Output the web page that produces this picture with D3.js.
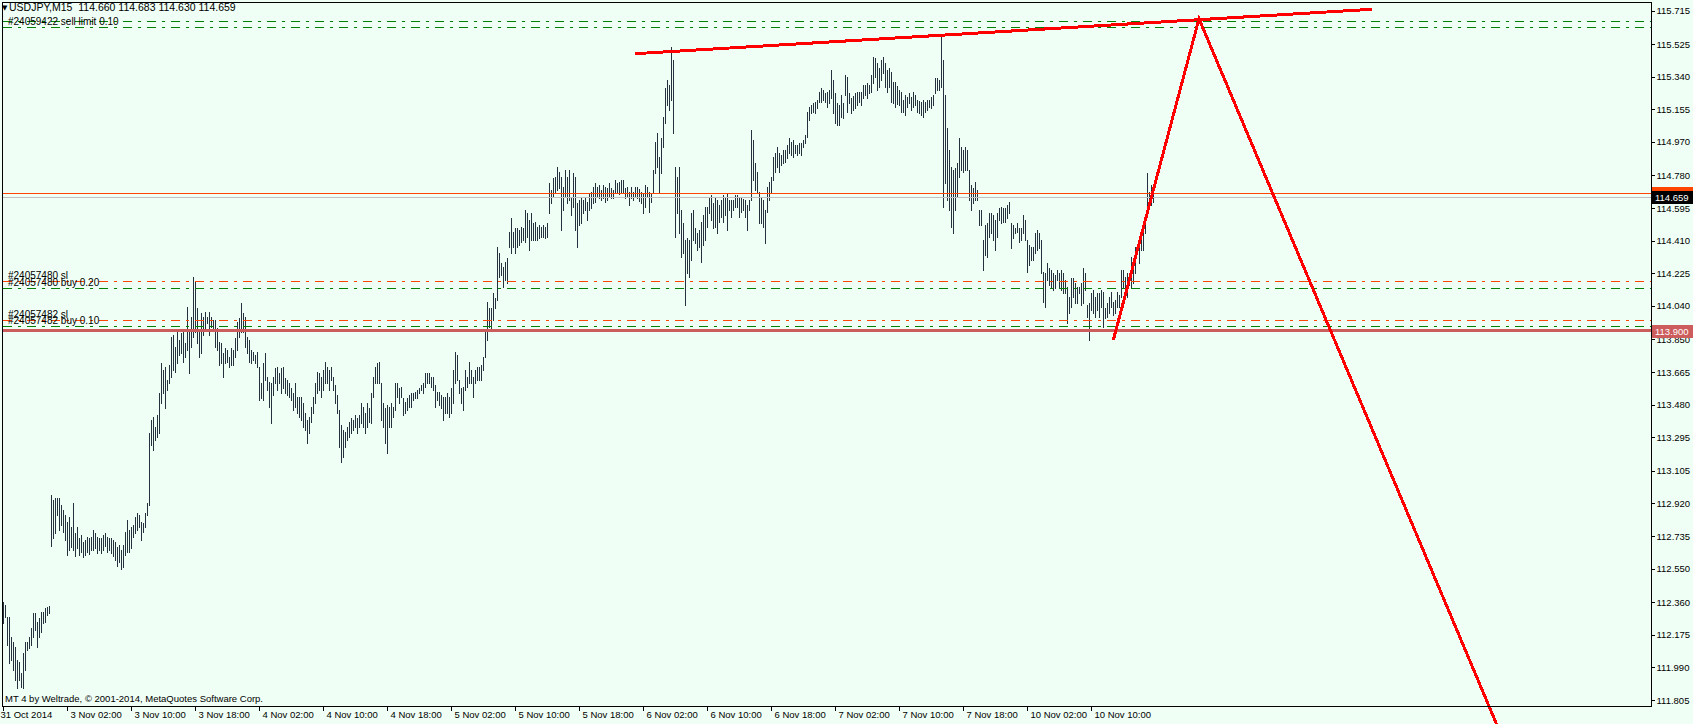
<!DOCTYPE html>
<html><head><meta charset="utf-8">
<script src="https://cdn.jsdelivr.net/npm/d3@7"></script>
<style>
html,body{margin:0;padding:0;background:#F0FFF5;overflow:hidden}
svg{display:block}
</style></head><body>
<script>
// ---------- DATA ----------
const symbol = "USDJPY,M15";
const lastOHLC = [114.660, 114.683, 114.630, 114.659];
const bidPrice = 114.659;
const askPrice = 114.679;
const alertPrice = 113.900;

const highs = [
112.361,112.344,112.275,112.275,112.162,112.134,112.105,112.032,112.021,111.958,
112.071,112.134,112.134,112.162,112.214,112.298,112.298,112.248,112.270,112.304,
112.304,112.327,112.332,112.338,
112.968,112.939,112.951,112.951,112.951,112.911,112.882,112.854,112.814,112.842,
112.785,112.922,112.752,112.785,112.724,112.741,112.701,112.712,112.729,112.724,
112.729,112.769,112.752,112.729,112.724,112.724,112.741,112.752,112.729,112.724,
112.724,112.712,112.701,112.672,112.684,112.655,112.684,112.758,112.825,112.769,
112.785,112.797,112.842,112.865,112.854,112.814,112.808,112.865,112.922,113.319,
113.393,113.410,113.353,113.422,113.546,113.716,113.676,113.693,113.620,113.705,
113.863,113.875,113.806,113.903,113.846,113.886,113.903,113.829,114.033,113.903,
113.977,114.203,114.176,114.028,113.903,114.000,113.977,114.006,113.977,114.006,
113.977,113.960,113.960,113.915,113.835,113.829,113.773,113.801,113.790,113.750,
113.801,113.790,113.858,113.949,113.972,114.056,114.000,113.977,113.863,113.846,
113.790,113.779,113.762,113.779,113.693,113.603,113.716,113.773,113.636,113.609,
113.603,113.636,113.688,113.693,113.659,113.688,113.693,113.631,113.620,113.603,
113.575,113.546,113.603,113.523,113.523,113.523,113.489,113.433,113.393,113.410,
113.466,113.523,113.603,113.665,113.659,113.636,113.676,113.722,113.693,113.676,
113.693,113.636,113.592,113.535,113.450,113.365,113.336,113.325,113.353,113.382,
113.405,113.393,113.422,113.405,113.422,113.489,113.466,113.433,113.489,113.461,
113.546,113.636,113.693,113.716,113.722,113.603,113.489,113.461,113.478,113.466,
113.489,113.466,113.603,113.603,113.575,113.580,113.518,113.495,113.518,113.535,
113.546,113.546,113.552,113.563,113.575,113.592,113.603,113.659,113.659,113.659,
113.636,113.636,113.592,113.552,113.552,113.535,113.523,113.523,113.546,113.523,
113.575,113.676,113.779,113.762,113.620,113.575,113.580,113.676,113.636,113.722,
113.676,113.636,113.676,113.693,113.693,113.705,113.750,113.903,114.062,114.028,
114.028,114.113,114.085,114.374,114.340,
114.283,114.260,114.289,114.312,114.459,114.539,114.459,114.482,114.482,114.470,
114.487,114.482,114.584,114.567,114.527,114.567,114.510,114.516,114.487,114.499,
114.487,114.499,114.487,114.510,114.737,114.697,114.765,114.770,114.827,114.799,
114.770,114.714,114.810,114.770,114.810,114.657,114.793,114.770,114.623,114.640,
114.652,114.640,114.652,114.629,114.680,114.686,114.714,114.737,114.714,114.726,
114.697,114.726,114.714,114.709,114.737,114.709,114.697,114.754,114.737,114.743,
114.754,114.754,114.709,114.714,114.686,114.714,114.686,114.714,114.714,114.703,
114.686,114.680,114.726,114.714,114.686,114.680,114.810,114.970,115.020,114.884,
114.992,115.111,115.276,115.321,115.293,115.508,
115.434,114.827,114.770,114.827,114.584,114.510,114.414,114.425,114.414,114.567,
114.584,114.482,114.453,114.470,114.516,114.556,114.601,114.601,114.657,114.669,
114.623,114.657,114.640,114.612,114.640,114.669,114.652,114.680,114.640,114.640,
114.640,114.669,114.669,114.652,114.657,114.646,114.640,114.612,114.640,115.037,
114.981,114.850,114.799,114.686,114.657,114.640,114.584,114.714,114.743,114.770,
114.884,114.907,114.941,114.907,114.896,114.924,114.924,114.952,114.992,114.970,
114.981,114.952,114.952,114.964,114.964,114.981,115.009,115.139,115.168,115.179,
115.190,115.196,115.207,115.253,115.276,115.264,115.247,115.253,115.264,115.378,
115.321,115.247,115.190,115.179,115.236,115.190,115.349,115.338,115.247,115.219,
115.230,115.247,115.253,115.253,115.253,115.293,115.293,115.304,115.293,115.349,
115.451,115.446,115.417,115.389,115.434,115.451,115.417,115.378,115.389,115.366,
115.310,115.310,115.287,115.264,115.253,115.207,115.236,115.224,115.247,115.224,
115.253,115.236,115.207,115.202,115.196,115.207,115.196,115.207,115.207,115.224,
115.236,115.332,115.332,115.321,115.570,
115.434,115.236,115.049,114.924,114.827,114.810,114.822,114.850,114.992,114.941,
114.924,114.941,114.924,114.810,114.726,114.709,114.743,114.697,114.584,114.584,
114.414,114.499,114.510,114.567,114.567,114.556,114.527,114.567,114.595,114.601,
114.595,114.595,114.612,114.629,114.510,114.499,114.482,114.510,114.482,114.482,
114.556,114.527,114.414,114.386,114.374,114.374,114.453,114.470,114.453,114.414,
114.232,114.226,114.283,114.255,114.243,114.226,114.215,114.243,114.226,114.243,
114.226,114.187,114.147,114.090,114.198,114.198,114.170,114.147,114.147,114.170,
114.255,114.226,114.045,114.056,114.113,114.130,114.090,114.113,114.113,114.130,
114.119,114.028,114.056,114.090,114.119,114.062,114.073,114.119,114.102,114.243,
114.243,114.203,114.226,114.215,114.317,114.300,114.374,114.386,114.374,114.430,
114.482,114.527,114.793,114.686,114.726,114.683
];

const lows = [
112.242,112.275,112.117,112.015,112.032,111.975,111.918,111.873,111.918,111.878,
111.873,111.975,112.088,112.100,112.117,112.162,112.202,112.105,112.162,112.191,
112.242,112.248,112.287,112.298,
112.678,112.724,112.752,112.854,112.769,112.797,112.758,112.712,112.627,112.655,
112.672,112.655,112.621,112.667,112.627,112.644,112.615,112.627,112.644,112.632,
112.655,112.655,112.667,112.638,112.655,112.638,112.655,112.678,112.644,112.655,
112.638,112.621,112.599,112.565,112.588,112.548,112.559,112.627,112.644,112.644,
112.667,112.729,112.752,112.769,112.785,112.712,112.758,112.785,112.854,112.911,
113.251,113.223,113.279,113.296,113.319,113.489,113.546,113.461,113.563,113.603,
113.636,113.676,113.665,113.716,113.762,113.773,113.722,113.750,113.790,113.659,
113.806,113.863,113.892,113.829,113.750,113.773,113.875,113.903,113.943,113.875,
113.920,113.903,113.806,113.790,113.705,113.716,113.636,113.716,113.722,113.693,
113.705,113.705,113.750,113.790,113.863,113.892,113.892,113.806,113.773,113.722,
113.716,113.733,113.716,113.693,113.506,113.518,113.506,113.620,113.563,113.466,
113.376,113.535,113.603,113.563,113.603,113.546,113.575,113.546,113.535,113.523,
113.506,113.450,113.466,113.433,113.410,113.393,113.353,113.336,113.262,113.319,
113.382,113.433,113.489,113.546,113.563,113.523,113.563,113.603,113.603,113.563,
113.620,113.563,113.489,113.433,113.239,113.155,113.183,113.239,113.279,113.296,
113.319,113.336,113.353,113.319,113.353,113.376,113.353,113.319,113.353,113.382,
113.376,113.523,113.603,113.603,113.603,113.393,113.353,113.262,113.206,113.353,
113.353,113.410,113.450,113.523,113.489,113.523,113.422,113.433,113.450,113.466,
113.466,113.506,113.518,113.518,113.546,113.563,113.546,113.580,113.603,113.603,
113.580,113.563,113.466,113.506,113.478,113.461,113.393,113.433,113.433,113.410,
113.433,113.489,113.603,113.620,113.546,113.489,113.450,113.563,113.580,113.603,
113.603,113.523,113.603,113.620,113.620,113.620,113.676,113.750,113.846,113.920,
113.915,113.960,114.028,114.073,114.203,
114.215,114.147,114.187,114.170,114.374,114.340,114.374,114.340,114.374,114.386,
114.403,114.414,114.403,114.430,114.357,114.414,114.414,114.414,114.414,114.425,
114.430,114.430,114.425,114.430,114.567,114.623,114.657,114.680,114.697,114.709,
114.470,114.584,114.657,114.623,114.640,114.556,114.601,114.470,114.374,114.499,
114.510,114.567,114.584,114.527,114.584,114.595,114.623,114.629,114.657,114.652,
114.640,114.652,114.629,114.640,114.657,114.652,114.652,114.680,114.686,114.674,
114.686,114.686,114.652,114.657,114.612,114.652,114.640,114.657,114.652,114.635,
114.623,114.567,114.601,114.657,114.573,114.629,114.680,114.793,114.827,114.686,
114.793,114.941,115.077,115.179,115.151,115.207,
115.020,114.430,114.567,114.453,114.317,114.340,114.045,114.226,114.203,114.300,
114.414,114.397,114.357,114.374,114.289,114.386,114.414,114.487,114.567,114.527,
114.482,114.487,114.453,114.516,114.544,114.516,114.556,114.470,114.584,114.544,
114.584,114.601,114.601,114.544,114.573,114.584,114.544,114.470,114.584,114.640,
114.754,114.697,114.680,114.510,114.510,114.487,114.397,114.573,114.640,114.680,
114.754,114.799,114.827,114.799,114.839,114.850,114.856,114.879,114.907,114.896,
114.884,114.907,114.896,114.907,114.896,114.941,114.964,114.998,115.094,115.134,
115.139,115.134,115.162,115.196,115.196,115.207,115.196,115.168,115.190,115.219,
115.134,115.077,115.066,115.066,115.111,115.105,115.236,115.139,115.190,115.134,
115.151,115.162,115.179,115.196,115.179,115.219,115.236,115.219,115.247,115.253,
115.304,115.338,115.264,115.281,115.321,115.361,115.281,115.253,115.281,115.196,
115.190,115.168,115.185,115.179,115.139,115.139,115.122,115.168,115.190,115.151,
115.168,115.179,115.139,115.134,115.122,115.111,115.139,115.151,115.168,115.162,
115.179,115.247,115.264,115.264,115.281,
114.601,114.737,114.640,114.584,114.487,114.453,114.584,114.657,114.770,114.810,
114.799,114.810,114.810,114.640,114.584,114.623,114.640,114.640,114.499,114.499,
114.243,114.329,114.317,114.430,114.453,114.414,114.357,114.430,114.527,114.510,
114.516,114.516,114.539,114.567,114.368,114.425,114.453,114.459,114.403,114.414,
114.453,114.414,114.232,114.272,114.300,114.300,114.340,114.357,114.368,114.226,
114.062,114.033,114.187,114.158,114.141,114.130,114.141,114.187,114.147,114.130,
114.113,114.113,113.943,114.000,114.033,114.090,114.056,114.056,114.113,114.045,
114.056,114.130,113.977,113.846,114.017,114.000,113.977,114.017,113.977,114.033,
113.920,113.972,113.977,114.000,114.033,113.988,114.000,114.033,114.033,114.090,
114.147,114.113,114.090,114.158,114.141,114.170,114.226,114.346,114.283,114.357,
114.357,114.453,114.556,114.612,114.612,114.630
];

const priceTicks = [115.715,115.525,115.340,115.155,114.970,114.780,114.595,114.410,114.225,114.040,
  113.850,113.665,113.480,113.295,113.105,112.920,112.735,112.550,112.360,112.175,111.990,111.805];

const timeIdx = [0,32,64,96,128,160,192,224,256,288,320,352,384,416,448,480,512,544];
const timeLabels = ["31 Oct 2014","3 Nov 02:00","3 Nov 10:00","3 Nov 18:00","4 Nov 02:00","4 Nov 10:00",
  "4 Nov 18:00","5 Nov 02:00","5 Nov 10:00","5 Nov 18:00","6 Nov 02:00","6 Nov 10:00","6 Nov 18:00",
  "7 Nov 02:00","7 Nov 10:00","7 Nov 18:00","10 Nov 02:00","10 Nov 10:00"];

const levelPrices = [115.658, 115.621, 114.179, 114.141, 113.958, 113.925];
const levelKinds  = ["open","open","sl","open","sl","open"];
const levelLabels = ["", "#24059422 sell limit 0.10", "#24057480 sl", "#24057480 buy 0.20", "#24057482 sl", "#24057482 buy 0.10"];

// trend lines: [barIndex, price]
const trendTop = [[315.75, 115.470], [684.25, 115.722]];
const zigzag = [[554.9, 113.846], [597.75, 115.668], [746.5, 111.669]];

const copyright = "MT 4 by Weltrade, \u00A9 2001-2014, MetaQuotes Software Corp.";

// ---------- DRAW ----------
const W = 1693, H = 724;
const FONT = "'Liberation Sans', Arial, sans-serif";
const BG = "#F0FFF5";
const svg = d3.select("body").append("svg").attr("width", W).attr("height", H);

svg.append("defs").append("clipPath").attr("id", "plot").append("rect")
  .attr("x", 3).attr("y", 3).attr("width", 1648).attr("height", 703);

svg.append("rect").attr("width", W).attr("height", H).attr("fill", BG);

const x = d3.scaleLinear().domain([0, 575]).range([3, 1153]);
const y = d3.scaleLinear().domain([111.805, 115.715]).range([700, 10.5]);
const px = i => x(i) + 0.5;

const plot = svg.append("g").attr("clip-path", "url(#plot)");

// bars (high-low lines)
plot.append("g").selectAll("line").data(highs).join("line")
  .attr("x1", (d, i) => px(i)).attr("x2", (d, i) => px(i))
  .attr("y1", d => Math.round(y(d)))
  .attr("y2", (d, i) => Math.round(y(lows[i])) + 1)
  .attr("stroke", "#25323D").attr("stroke-width", 1)
  .attr("shape-rendering", "crispEdges");

// order levels
const kindColor = k => k === "sl" ? "#FF4500" : "#008000";
plot.append("g").selectAll("line").data(levelPrices).join("line")
  .attr("x1", 3).attr("x2", 1651)
  .attr("y1", d => Math.round(y(d)) + 0.5).attr("y2", d => Math.round(y(d)) + 0.5)
  .attr("stroke", (d, i) => kindColor(levelKinds[i])).attr("stroke-width", 1)
  .attr("stroke-dasharray", "9,6,3,6").attr("shape-rendering", "crispEdges");

// bid / ask lines
plot.append("line").attr("x1", 3).attr("x2", 1651)
  .attr("y1", Math.round(y(bidPrice)) + 0.5).attr("y2", Math.round(y(bidPrice)) + 0.5)
  .attr("stroke", "#C0C0C0").attr("shape-rendering", "crispEdges");
plot.append("line").attr("x1", 3).attr("x2", 1651)
  .attr("y1", Math.round(y(askPrice)) + 0.5).attr("y2", Math.round(y(askPrice)) + 0.5)
  .attr("stroke", "#FF4500").attr("shape-rendering", "crispEdges");

// alert horizontal line
plot.append("line").attr("x1", 3).attr("x2", 1651)
  .attr("y1", y(alertPrice)).attr("y2", y(alertPrice))
  .attr("stroke", "#CD5C5C").attr("stroke-width", 3).attr("shape-rendering", "crispEdges");

// level labels
plot.append("g").selectAll("text").data(levelPrices).join("text")
  .attr("x", 8).attr("y", d => Math.round(y(d)) - 2)
  .attr("font-family", FONT).attr("font-size", 10).attr("fill", "#000")
  .text((d, i) => levelLabels[i]);

// red trend lines
const lineGen = d3.line().x(d => px(d[0])).y(d => y(d[1]));
svg.append("path").attr("d", lineGen(trendTop)).attr("fill", "none")
  .attr("stroke", "#FF0000").attr("stroke-width", 3).attr("shape-rendering", "crispEdges");
svg.append("path").attr("d", lineGen(zigzag)).attr("fill", "none")
  .attr("stroke", "#FF0000").attr("stroke-width", 3).attr("shape-rendering", "crispEdges")
  .attr("stroke-linejoin", "miter");

// frame
svg.append("rect").attr("x", 2.5).attr("y", 2.5).attr("width", 1649).attr("height", 704)
  .attr("fill", "none").attr("stroke", "#000").attr("shape-rendering", "crispEdges");

// price axis
const axY = d3.axisRight(y).tickValues(priceTicks).tickFormat(d3.format(".3f")).tickSize(3).tickPadding(2);
svg.append("g").attr("transform", "translate(1651.5,0)").call(axY)
  .call(g => g.select(".domain").remove())
  .call(g => g.selectAll("line").attr("stroke", "#000").attr("shape-rendering", "crispEdges"))
  .call(g => g.selectAll("text").attr("font-family", FONT).attr("font-size", 9.5).attr("fill", "#000"));

// time axis
const axX = d3.axisBottom(x).tickValues(timeIdx).tickFormat((d, i) => timeLabels[i]).tickSize(4).tickPadding(2);
svg.append("g").attr("transform", "translate(0,706.5)").call(axX)
  .call(g => g.select(".domain").remove())
  .call(g => g.selectAll("line").attr("stroke", "#000").attr("shape-rendering", "crispEdges"))
  .call(g => g.selectAll("text").attr("font-family", FONT).attr("font-size", 9.5).attr("fill", "#000")
      .attr("text-anchor", "start").attr("x", (d, i) => i === 0 ? -3 : 3).attr("y", 5).attr("dy", "0.71em"));

// price boxes on the axis
function priceBox(p, fill, fg) {
  const cy = Math.round(y(p));
  svg.append("rect").attr("x", 1652).attr("y", cy - 6).attr("width", 41).attr("height", 13).attr("fill", fill);
  svg.append("text").attr("x", 1655).attr("y", cy + 4).attr("font-family", FONT).attr("font-size", 9.5)
    .attr("fill", fg).text(d3.format(".3f")(p));
}
priceBox(askPrice, "#FF4500", "#FFFFFF");
priceBox(bidPrice, "#000000", "#FFFFFF");
priceBox(alertPrice, "#CD5C5C", "#FFFFFF");

// header
svg.append("text").attr("x", 2).attr("y", 10).attr("font-family", "'DejaVu Sans', sans-serif").attr("font-size", 7)
  .attr("fill", "#000").text("\u25BC");
svg.append("text").attr("x", 9).attr("y", 11).attr("font-family", FONT).attr("font-size", 10.5)
  .attr("fill", "#000").attr("xml:space", "preserve").style("white-space", "pre")
  .text(symbol + "  " + lastOHLC.map(d3.format(".3f")).join(" "));

// copyright
svg.append("text").attr("x", 5).attr("y", 702).attr("font-family", FONT).attr("font-size", 9.5)
  .attr("fill", "#000").text(copyright);
</script>
</body></html>
